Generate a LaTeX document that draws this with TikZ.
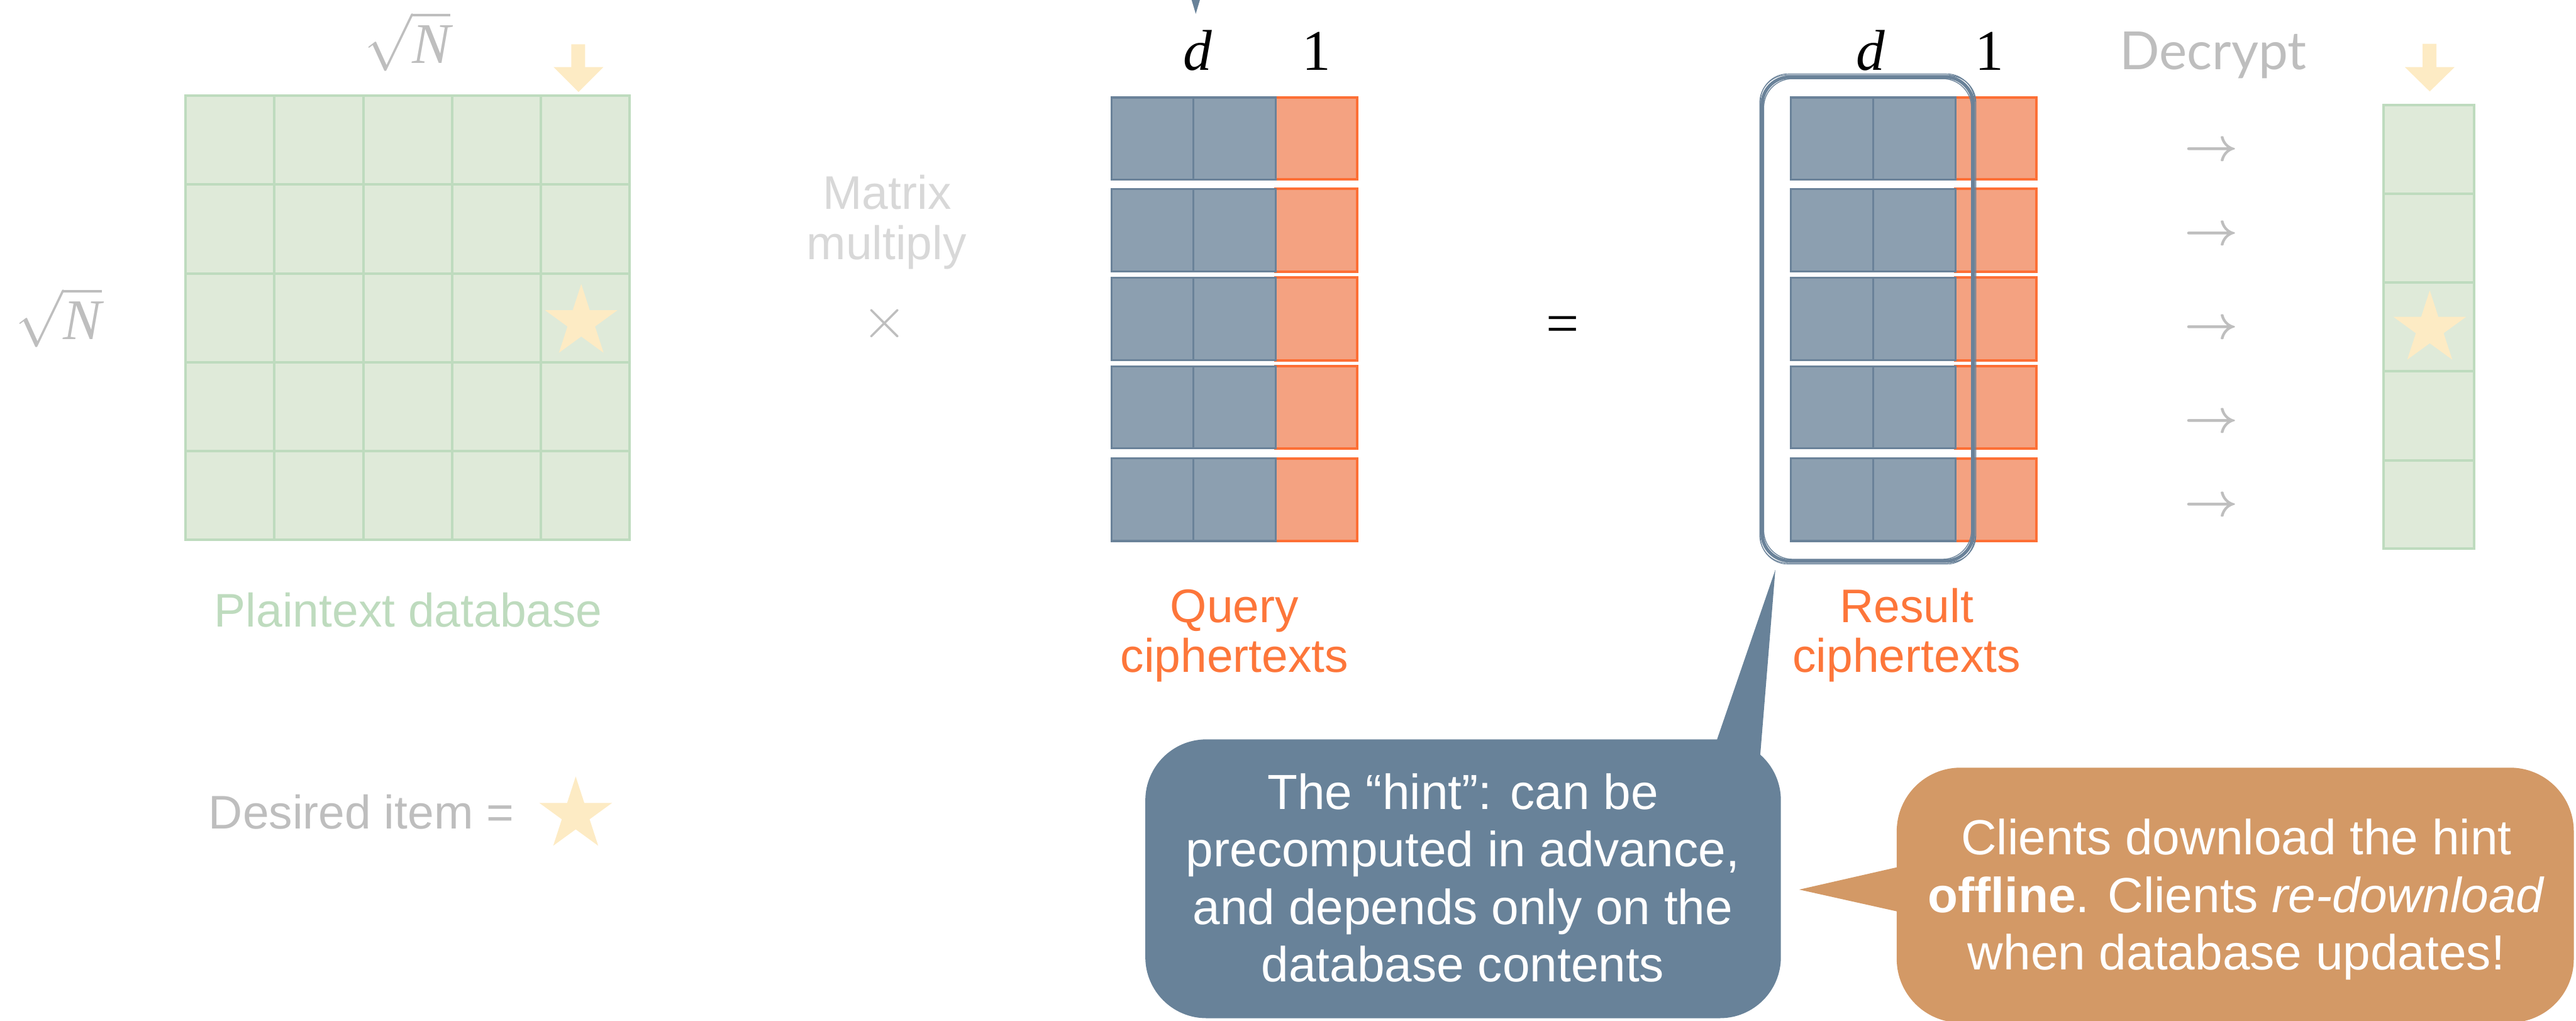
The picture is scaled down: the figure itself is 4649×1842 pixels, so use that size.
\RequirePackage{fix-cm}
\documentclass[tikz,border=0pt]{standalone}
\usepackage{fontspec}
\setmainfont{Liberation Sans}
\newfontfamily\tms{Liberation Serif}
\newfontfamily\decfont{Lato}
\usetikzlibrary{shapes.geometric}
\definecolor{gridfill}{RGB}{223,234,217}
\definecolor{gridline}{RGB}{190,219,190}
\definecolor{staryel}{RGB}{253,235,196}
\definecolor{graytxt}{RGB}{190,190,190}
\definecolor{lgraytxt}{RGB}{216,216,216}
\definecolor{slate}{RGB}{106,130,153}
\definecolor{slatefill}{RGB}{140,159,176}
\definecolor{orline}{RGB}{253,111,53}
\definecolor{orfill}{RGB}{244,162,129}
\definecolor{ortxt}{RGB}{253,118,58}
\definecolor{callblue}{RGB}{104,130,153}
\definecolor{callor}{RGB}{211,153,102}
\begin{document}
\begin{tikzpicture}[x=0.01cm,y=-0.01cm,
  lbl/.style={inner sep=0, anchor=base, font=\fontsize{24.2}{29}\selectfont},
  mathlbl/.style={inner sep=0, anchor=base, font=\tms\fontsize{29.5}{34}\selectfont},
  sqrtlbl/.style={inner sep=0, anchor=base, text=graytxt, font=\fontsize{29.5}{34}\selectfont},
  calltxt/.style={inner sep=0, anchor=base, text=white, font=\fontsize{25.3}{30}\selectfont},
  starsty/.style={star, star points=5, star point ratio=2.618, fill=staryel, draw=none, inner sep=0, minimum size=1.37cm},
  gridsty/.style={draw=gridline, line width=0.045cm},
  slcell/.style={fill=slatefill, draw=slate, line width=0.036cm},
  orcell/.style={fill=orfill, draw=orline, line width=0.045cm},
  arrowglyph/.style={inner sep=0, text=graytxt, font=\fontsize{24}{28}\selectfont\boldmath},
  sketch/.style={draw=slate, rounded corners=0.5cm}
]
\useasboundingbox (0,0) rectangle (4649,1842);
\clip (0,0) rectangle (4649,1842);

% ---------- plaintext database grid ----------
\filldraw[fill=gridfill, gridsty] (335,173) rectangle (1136,974);
\foreach \xx in {495,656,816,976} \draw[gridsty] (\xx,173) -- (\xx,974);
\foreach \yy in {333,494,654,814} \draw[gridsty] (335,\yy) -- (1136,\yy);
\node[starsty] (dbstar) at (1049,581) {};
\fill[staryel] (1031,80) -- (1056,80) -- (1056,121) -- (1089,121) -- (1044,166) -- (999,121) -- (1031,121) -- cycle;

\node[sqrtlbl] (sqtop) at (735,114) {$\sqrt{\hbox{\tms\itshape N}}$};
\node[sqrtlbl] (sqleft) at (106,612) {$\sqrt{\hbox{\tms\itshape N}}$};

\node[lbl, text=gridline] (dblbl) at (737,1131) {Plaintext database};
\node[lbl, anchor=base west, text=graytxt] (desired) at (376,1495) {Desired item =};
\node[starsty, minimum size=1.38cm] (legstar) at (1039,1470) {};

% ---------- matrix multiply ----------
\node[lbl, text=lgraytxt] (mm1) at (1601,377) {Matrix};
\node[lbl, text=lgraytxt] (mm2) at (1600,468) {multiply};
\node[inner sep=0, text=graytxt, font=\fontsize{30}{34}\selectfont] (times) at (1597,584) {$\times$};

% ---------- query ciphertexts ----------
\foreach \t/\b in {176/324,341/490,501/650,661/809,827/976} {
  \filldraw[orcell] (2302,\t) rectangle (2449,\b);
  \filldraw[slcell] (2006,\t) rectangle (2154,\b);
  \filldraw[slcell] (2154,\t) rectangle (2302,\b);
}
\node[mathlbl] (qd) at (2161,127) {\itshape d};
\node[mathlbl] (qone) at (2376,127) {1};
\node[lbl, text=ortxt] (q1) at (2228,1123) {Query};
\node[lbl, text=ortxt] (q2) at (2228,1213) {ciphertexts};

\node[inner sep=0, font=\tms\fontsize{30}{34}\selectfont] (eq) at (2820,595) {=};

% ---------- result ciphertexts ----------
\foreach \t/\b in {176/324,341/490,501/650,661/809,827/976} {
  \filldraw[orcell] (3529,\t) rectangle (3675,\b);
  \filldraw[slcell] (3232,\t) rectangle (3381,\b);
  \filldraw[slcell] (3381,\t) rectangle (3529,\b);
}
\node[mathlbl] (rd) at (3376,127) {\itshape d};
\node[mathlbl] (rone) at (3590,127) {1};
\node[lbl, text=ortxt] (r1) at (3441,1123) {Result};
\node[lbl, text=ortxt] (r2) at (3441,1213) {ciphertexts};

% sketchy hint outline
\draw[sketch, line width=0.06cm] (3180,139) rectangle (3561,1012);
\draw[sketch, line width=0.015cm] (3176,135) rectangle (3565,1016);
\draw[sketch, line width=0.015cm, rounded corners=0.52cm] (3183,142) rectangle (3558,1009);
\draw[sketch, line width=0.01cm] (3177,133) rectangle (3563,1018);
\draw[sketch, line width=0.012cm, rounded corners=0.48cm] (3182,137) rectangle (3566,1014);

% ---------- decrypt ----------
\node[inner sep=0, anchor=base, text=graytxt, font=\decfont\fontsize{27}{32}\selectfont] (dec) at (3994,125) {Decrypt};
\foreach \yy/\nm in {273/a1,426/a2,595/a3,764/a4,915/a5}
  \node[arrowglyph] (\nm) at (3991,\yy) {$\rightarrow$};

\filldraw[fill=gridfill, gridsty] (4302,189) rectangle (4465,990);
\foreach \yy in {350,510,670,831} \draw[gridsty] (4302,\yy) -- (4465,\yy);
\node[starsty, minimum size=1.38cm] (outstar) at (4385,593) {};
\fill[staryel] (4372,79) -- (4397,79) -- (4397,121) -- (4430,121) -- (4385,165) -- (4340,121) -- (4372,121) -- cycle;

% ---------- callouts ----------
\fill[callblue] (2149,-5) -- (2167,-5) -- (2158,25) -- cycle;

\fill[callblue, rounded corners=1.1cm] (2067,1334) rectangle (3214,1837);
\fill[callblue] (3095,1345) -- (3204,1028) -- (3172,1420) -- (3095,1420) -- cycle;
\node[calltxt] (h1) at (2640,1460) {The “hint”: can be};
\node[calltxt] (h2) at (2640,1564) {precomputed in advance,};
\node[calltxt] (h3) at (2640,1668) {and depends only on the};
\node[calltxt] (h4) at (2640,1771) {database contents};

\fill[callor, rounded corners=1.15cm] (3423,1385) rectangle (4645,1845);
\fill[callor] (3440,1561) -- (3247,1605) -- (3440,1648) -- cycle;
\node[calltxt] (c1) at (4036,1542) {Clients download the hint};
\node[calltxt] (c2) at (4036,1646) {\textbf{offline}. Clients \textit{re-download}};
\node[calltxt] (c3) at (4036,1750) {when database updates!};
\end{tikzpicture}
\end{document}
